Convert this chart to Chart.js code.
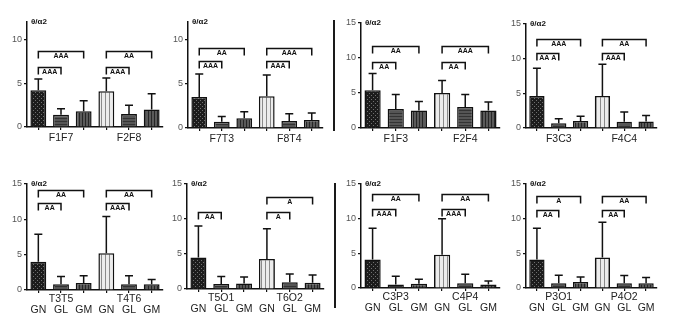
<!DOCTYPE html>
<html>
<head>
<meta charset="utf-8">
<script src="https://cdn.jsdelivr.net/npm/chart.js@4"></script>
<style>
  html, body { margin: 0; padding: 0; background: #fff; }
  #fig { position: relative; width: 677px; height: 318px; overflow: hidden; }
  #fig canvas { position: absolute; }
  .divider { position: absolute; width: 2px; background: #1a1a1a; }
</style>
</head>
<body>
<div id="fig">
  <div class="divider" style="left:333px;top:20px;height:111px"></div>
  <div class="divider" style="left:334px;top:183px;height:125px"></div>
</div>
<script>
// data, panel by panel (top row left to right, then bottom row)
const groupLabels = [
  ['F1F7', 'F2F8'], ['F7T3', 'F8T4'], ['F1F3', 'F2F4'], ['F3C3', 'F4C4'],
  ['T3T5', 'T4T6'], ['T5O1', 'T6O2'], ['C3P3', 'C4P4'], ['P3O1', 'P4O2']
];
const conditions = ['GN', 'GL', 'GM'];
const means = [
  [4.2, 1.4, 1.8, 4.1, 1.5, 2.0],
  [3.5, 0.7, 1.1, 3.6, 0.8, 0.9],
  [5.4, 2.7, 2.5, 5.0, 3.0, 2.5],
  [4.6, 0.7, 1.0, 4.6, 0.9, 0.95],
  [4.0, 0.8, 1.0, 5.2, 0.8, 0.8],
  [4.5, 0.7, 0.8, 4.3, 0.95, 0.9],
  [4.1, 0.5, 0.6, 4.8, 0.7, 0.5],
  [4.1, 0.7, 0.85, 4.4, 0.7, 0.7]
];
const sds = [
  [1.3, 0.7, 1.2, 1.5, 1.0, 1.8],
  [2.6, 0.6, 0.75, 2.4, 0.8, 0.8],
  [2.4, 2.1, 1.3, 1.8, 1.8, 1.2],
  [4.0, 0.65, 0.7, 4.6, 1.4, 0.85],
  [3.9, 1.1, 1.0, 5.2, 1.2, 0.7],
  [4.5, 1.1, 0.9, 4.3, 1.2, 1.1],
  [4.5, 1.2, 0.65, 5.2, 1.3, 0.5],
  [4.5, 1.15, 0.75, 5.1, 1.1, 0.8]
];
const yMaxes = [12, 12, 15, 15, 15, 15, 15, 15];
const yTicksShort = [0, 5, 10];
const yTicksTall = [0, 5, 10, 15];
// significance brackets: [from bar, to bar, height, marks]
const brackets = [
  [[0, 1, 6.9, 'AAA'], [0, 2, 8.65, 'AAA'], [3, 4, 6.9, 'AAA'], [3, 5, 8.65, 'AA']],
  [[0, 1, 7.6, 'AAA'], [0, 2, 9.1, 'AA'], [3, 4, 7.6, 'AAA'], [3, 5, 9.1, 'AAA']],
  [[0, 1, 9.4, 'AA'], [0, 2, 11.7, 'AA'], [3, 4, 9.4, 'AA'], [3, 5, 11.7, 'AAA']],
  [[0, 1, 10.8, 'AA A'], [0, 2, 12.9, 'AAA'], [3, 4, 10.8, 'AAA'], [3, 5, 12.9, 'AA']],
  [[0, 1, 12.3, 'AA'], [0, 2, 14.2, 'AA'], [3, 4, 12.3, 'AAA'], [3, 5, 14.2, 'AA']],
  [[0, 1, 11.0, 'AA'], [3, 4, 11.0, 'A'], [3, 5, 13.1, 'A']],
  [[0, 1, 11.4, 'AAA'], [0, 2, 13.5, 'AA'], [3, 4, 11.4, 'AAA'], [3, 5, 13.5, 'AA']],
  [[0, 1, 11.25, 'AA'], [0, 2, 13.3, 'A'], [3, 4, 11.25, 'AA'], [3, 5, 13.3, 'AA']]
];
const unitLabel = 'θ/α2';

// where the axes of each panel sit on the page
const frames = [
  { x0: 27, x1: 163, top: 22, bottom: 127 },
  { x0: 188, x1: 323, top: 22, bottom: 128 },
  { x0: 361, x1: 500, top: 23, bottom: 128 },
  { x0: 526, x1: 657, top: 24, bottom: 128 },
  { x0: 27, x1: 163, top: 184, bottom: 290 },
  { x0: 187, x1: 324, top: 184, bottom: 289 },
  { x0: 361, x1: 500, top: 184, bottom: 288 },
  { x0: 526, x1: 657, top: 184, bottom: 288 }
];

const FONT = '"Liberation Sans", Arial, sans-serif';

function tile(w, h, bg, draw) {
  const c = document.createElement('canvas');
  c.width = w; c.height = h;
  const g = c.getContext('2d');
  g.fillStyle = bg; g.fillRect(0, 0, w, h);
  draw(g);
  return g.createPattern(c, 'repeat');
}

const checker = tile(4, 4, '#1c1c1c', g => {
  g.fillStyle = '#707070';
  g.fillRect(0, 0, 1, 1); g.fillRect(2, 2, 1, 1);
});
const lightStripes = tile(4, 1, '#ececec', g => {
  g.fillStyle = '#8a8a8a'; g.fillRect(0, 0, 1, 1);
});
const hStripes = tile(1, 3, '#555', g => {
  g.fillStyle = '#333'; g.fillRect(0, 0, 1, 1);
});
const vStripes = tile(3, 1, '#5a5a5a', g => {
  g.fillStyle = '#262626'; g.fillRect(0, 0, 1, 1);
});
const barFills = [checker, hStripes, vStripes, lightStripes, hStripes, vStripes];

function makeLabels(i) {
  const [a, b] = groupLabels[i];
  if (i < 4) return ['', a, '', '', b, ''];
  return [['', conditions[0]], [a, conditions[1]], ['', conditions[2]],
          ['', conditions[0]], [b, conditions[1]], ['', conditions[2]]];
}

function extrasPlugin(i) {
  return {
    id: 'extras' + i,
    afterDatasetsDraw(chart) {
      const { ctx, chartArea } = chart;
      const xs = chart.scales.x, ys = chart.scales.y;
      const meta = chart.getDatasetMeta(0);
      ctx.save();
      ctx.strokeStyle = '#111';
      ctx.lineWidth = 1.5;
      // error bars (upper only)
      meta.data.forEach((bar, k) => {
        const yTop = ys.getPixelForValue(means[i][k] + sds[i][k]);
        ctx.beginPath();
        ctx.moveTo(bar.x, bar.y);
        ctx.lineTo(bar.x, yTop);
        ctx.moveTo(bar.x - 4, yTop);
        ctx.lineTo(bar.x + 4, yTop);
        ctx.stroke();
      });
      // significance brackets
      ctx.fillStyle = '#111';
      ctx.font = 'bold 7px ' + FONT;
      ctx.textAlign = 'center';
      ctx.textBaseline = 'middle';
      brackets[i].forEach(([a, b, v, mark]) => {
        const xa = xs.getPixelForValue(a), xb = xs.getPixelForValue(b);
        const y = Math.round(ys.getPixelForValue(v)) + 0.5;
        ctx.beginPath();
        ctx.moveTo(xa, y + 7);
        ctx.lineTo(xa, y);
        ctx.lineTo(xb, y);
        ctx.lineTo(xb, y + 7);
        ctx.stroke();
        ctx.fillText(mark, (xa + xb) / 2, y + 5);
      });
      // unit label
      ctx.font = 'bold 8px ' + FONT;
      ctx.textAlign = 'left';
      ctx.textBaseline = 'alphabetic';
      ctx.fillText(unitLabel, chartArea.left + 4, chartArea.top + 2);
      ctx.restore();
    }
  };
}

const fig = document.getElementById('fig');

frames.forEach((f, i) => {
  const bottomRow = i >= 4;
  const xh = bottomRow ? 30 : 22;
  const padTop = 12;
  const left = f.x0 - 26;
  const top = f.top - padTop;
  const canvas = document.createElement('canvas');
  canvas.width = f.x1 - left + 4;
  canvas.height = (f.bottom - f.top) + padTop + xh;
  canvas.style.left = left + 'px';
  canvas.style.top = top + 'px';
  canvas.style.width = canvas.width + 'px';
  canvas.style.height = canvas.height + 'px';
  fig.appendChild(canvas);

  const yTicks = yMaxes[i] > 12 ? yTicksTall : yTicksShort;

  new Chart(canvas, {
    type: 'bar',
    data: {
      labels: makeLabels(i),
      datasets: [{
        data: means[i],
        backgroundColor: barFills,
        borderColor: '#111',
        borderWidth: 1.5,
        barPercentage: 0.7,
        categoryPercentage: 1
      }]
    },
    options: {
      responsive: false,
      animation: false,
      events: [],
      layout: { padding: { top: padTop, right: 4, bottom: 0, left: 0 } },
      plugins: { legend: { display: false }, tooltip: { enabled: false } },
      scales: {
        x: {
          offset: true,
          grid: { display: true, offset: false, drawOnChartArea: false, drawTicks: true, tickLength: 3, color: '#111', lineWidth: 1.2 },
          border: { display: true, color: '#111', width: 1.5 },
          ticks: {
            autoSkip: false, maxRotation: 0, padding: bottomRow ? 1 : 3,
            color: '#222', font: { family: FONT, size: 10.5, lineHeight: 1.0 }
          },
          afterFit: s => { s.height = xh; s.paddingLeft = 0; s.paddingRight = 0; }
        },
        y: {
          min: 0,
          max: yMaxes[i],
          grid: { display: true, drawOnChartArea: false, drawTicks: true, tickLength: 3, color: '#111', lineWidth: 1.2 },
          border: { display: true, color: '#111', width: 1.5 },
          ticks: { padding: 2, color: '#555', font: { family: FONT, size: 9 } },
          afterBuildTicks: s => { s.ticks = yTicks.map(v => ({ value: v })); },
          afterFit: s => { s.width = 26; s.paddingTop = 0; s.paddingBottom = 0; }
        }
      }
    },
    plugins: [extrasPlugin(i)]
  });
});
</script>
</body>
</html>
